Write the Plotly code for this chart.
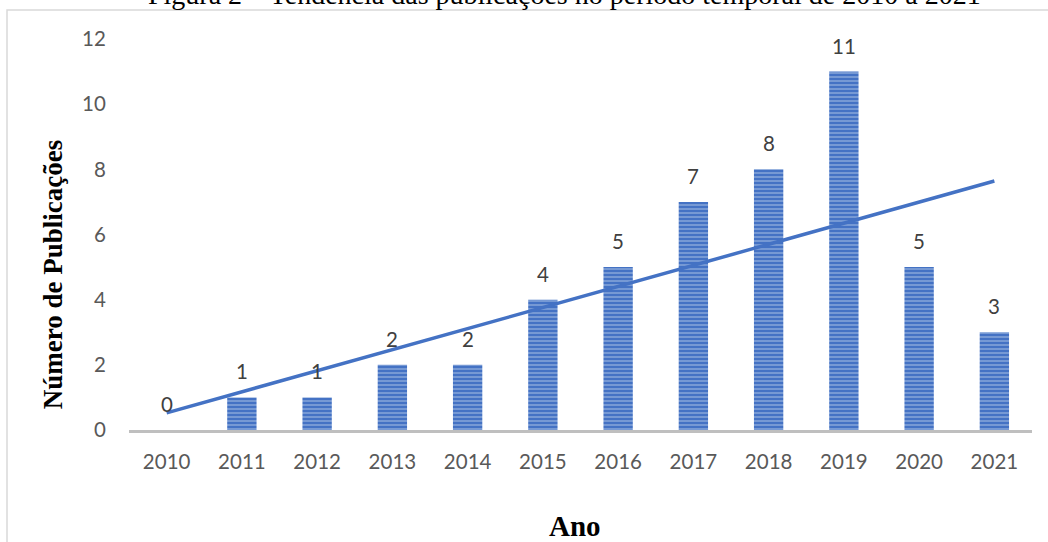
import plotly.graph_objects as go
import numpy as np

years = [2010, 2011, 2012, 2013, 2014, 2015, 2016, 2017, 2018, 2019, 2020, 2021]
publications = [0, 1, 1, 2, 2, 4, 5, 7, 8, 11, 5, 3]
y_ticks = [0, 2, 4, 6, 8, 10, 12]

title_text = "Figura 2 – Tendência das publicações no período temporal de 2010 a 2021"
y_title = "Número de Publicações"
x_title = "Ano"

# linear trend line (least squares fit of the data)
xs = np.arange(1, len(years) + 1)
slope, intercept = np.polyfit(xs, publications, 1)
trend = slope * xs + intercept

BLUE = "#4472C4"
tick_font = dict(family="Lato, Open Sans, sans-serif", size=20.5, color="#595959")

fig = go.Figure()
fig.add_trace(go.Bar(
    x=years, y=publications, width=0.39,
    marker=dict(color=BLUE, line=dict(width=0),
                pattern=dict(shape="-", fgcolor="#B4C7E7", size=4, solidity=0.45)),
    showlegend=False, hoverinfo="x+y",
))
fig.add_trace(go.Scatter(
    x=years, y=trend, mode="lines",
    line=dict(color=BLUE, width=3.5), showlegend=False,
))

for yr, v in zip(years, publications):
    fig.add_annotation(x=yr, y=v, text=str(v), showarrow=False, yshift=26,
                       font=dict(family="Lato, Open Sans, sans-serif", size=20.5, color="#404040"))

serif = "Liberation Serif, Times New Roman, serif"
fig.add_annotation(xref="paper", yref="paper", x=-0.084, y=0.396, text=f"<b>{y_title}</b>",
                   textangle=-90, showarrow=False, xanchor="center", yanchor="middle",
                   font=dict(family=serif, size=27, color="black"))
fig.add_annotation(xref="paper", yref="paper", x=0.494, y=-0.2455, text=f"<b>{x_title}</b>",
                   showarrow=False, xanchor="center", yanchor="middle",
                   font=dict(family=serif, size=29, color="black"))
fig.add_annotation(xref="paper", yref="paper", x=0.482, y=1.115, text=title_text,
                   showarrow=False, xanchor="center", yanchor="middle",
                   font=dict(family=serif, size=28, color="black"))

fig.add_shape(type="rect", xref="paper", yref="paper", x0=-0.1351, x1=1.2, y0=-0.6, y1=1.0742,
              line=dict(color="#D9D9D9", width=1.5), fillcolor="rgba(0,0,0,0)", layer="below")

fig.update_layout(
    width=1048, height=542,
    margin=dict(l=129, r=16, t=39, b=112),
    paper_bgcolor="white", plot_bgcolor="white",
    xaxis=dict(range=[2009.5, 2021.5], tickmode="array", tickvals=years,
               ticktext=[str(y) for y in years], showgrid=False, zeroline=False,
               showline=True, linecolor="#BFBFBF", linewidth=3,
               tickfont=tick_font, ticks="outside", ticklen=11, tickcolor="rgba(0,0,0,0)"),
    yaxis=dict(range=[0, 12], tickmode="array", tickvals=y_ticks, showgrid=False,
               zeroline=False, showline=False, tickfont=tick_font,
               ticks="outside", ticklen=18, tickcolor="rgba(0,0,0,0)"),
)

fig.write_html("out.html", config={"displayModeBar": False},
               post_script="document.body.style.margin='0';document.body.style.overflow='hidden';")
